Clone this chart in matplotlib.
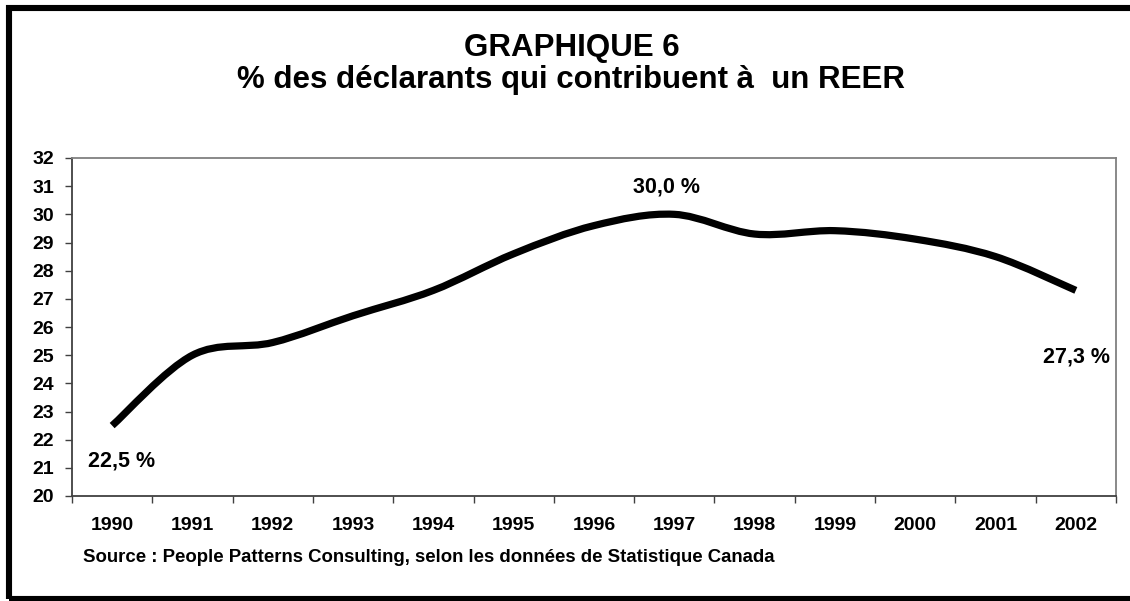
import numpy as np
import matplotlib
matplotlib.use("Agg")
import matplotlib.pyplot as plt
from matplotlib.path import Path
from matplotlib.patches import PathPatch, Rectangle

plt.rcParams['font.family'] = ['Liberation Sans', 'DejaVu Sans']
plt.rcParams['font.weight'] = 'bold'

# data
years = ['1990', '1991', '1992', '1993', '1994', '1995', '1996',
         '1997', '1998', '1999', '2000', '2001', '2002']
pct = [22.5, 25.0, 25.45, 26.4, 27.3, 28.6, 29.6,
       30.0, 29.3, 29.42, 29.12, 28.5, 27.3]
labels = {0: '22,5 %', 7: '30,0 %', 12: '27,3 %'}
y_ticks = list(range(20, 33))

fig = plt.figure(figsize=(11.30, 6.01), dpi=100)
W, H = 1130, 601

# outer frame (right side runs off the picture)
fig.patches.append(Rectangle((9 / W, 2 / H), 1140 / W, 591 / H,
                             transform=fig.transFigure, fill=False,
                             edgecolor='black', linewidth=4.4))

ax = fig.add_axes([72 / W, (H - 496) / H, 1044 / W, 338 / H])

# smoothed line (bezier through the points, like the spreadsheet smoothing)
x = np.arange(len(pct), dtype=float)
y = np.array(pct)
pts = np.column_stack([x, y])
verts = [pts[0]]
codes = [Path.MOVETO]
n = len(pts)
for i in range(n - 1):
    p0 = pts[i - 1] if i > 0 else pts[i]
    p1 = pts[i]
    p2 = pts[i + 1]
    p3 = pts[i + 2] if i + 2 < n else pts[i + 1]
    c1 = p1 + (p2 - p0) / 6.0
    c2 = p2 - (p3 - p1) / 6.0
    verts += [c1, c2, p2]
    codes += [Path.CURVE4] * 3
ax.add_patch(PathPatch(Path(verts, codes), fill=False, edgecolor='black',
                       linewidth=5.2, capstyle='butt', joinstyle='round'))

ax.set_xlim(-0.5, len(years) - 0.5)
ax.set_ylim(20, 32)

ax.set_xticks(np.arange(-0.5, len(years), 1.0))
ax.set_xticklabels([])
ax.set_xticks(x, minor=True)
ax.set_xticklabels(years, minor=True)
ax.tick_params(axis='x', which='major', direction='out', length=5, width=1,
               color='#404040')
ax.tick_params(axis='x', which='minor', length=0, pad=15, labelsize=14)
ax.set_yticks(y_ticks)
ax.tick_params(axis='y', direction='out', length=5, width=1, color='#404040',
               pad=8, labelsize=14)

for s in ['left', 'bottom']:
    ax.spines[s].set_color('#404040')
    ax.spines[s].set_linewidth(1.3)
for s in ['top', 'right']:
    ax.spines[s].set_color('#808080')
    ax.spines[s].set_linewidth(1.3)

# value labels
ax.annotate(labels[0], (0, pct[0]), xytext=(9, -35), textcoords='offset pixels',
            ha='center', va='center', fontsize=15.5, fontweight='bold')
ax.annotate(labels[7], (7, pct[7]), xytext=(-8, 27), textcoords='offset pixels',
            ha='center', va='center', fontsize=15.5, fontweight='bold')
ax.annotate(labels[12], (12, pct[12]), xytext=(1, -67), textcoords='offset pixels',
            ha='center', va='center', fontsize=15.5, fontweight='bold')

fig.text(572 / W, 1 - 48 / H, 'GRAPHIQUE 6', ha='center', va='center',
         fontsize=22.5, fontweight='bold')
fig.text(571 / W, 1 - 80 / H, '% des déclarants qui contribuent à  un REER',
         ha='center', va='center', fontsize=22.5, fontweight='bold')
fig.text(83 / W, 1 - 558 / H,
         'Source : People Patterns Consulting, selon les données de Statistique Canada',
         ha='left', va='center', fontsize=13.4, fontweight='bold')

fig.savefig('out.png', dpi=100)
